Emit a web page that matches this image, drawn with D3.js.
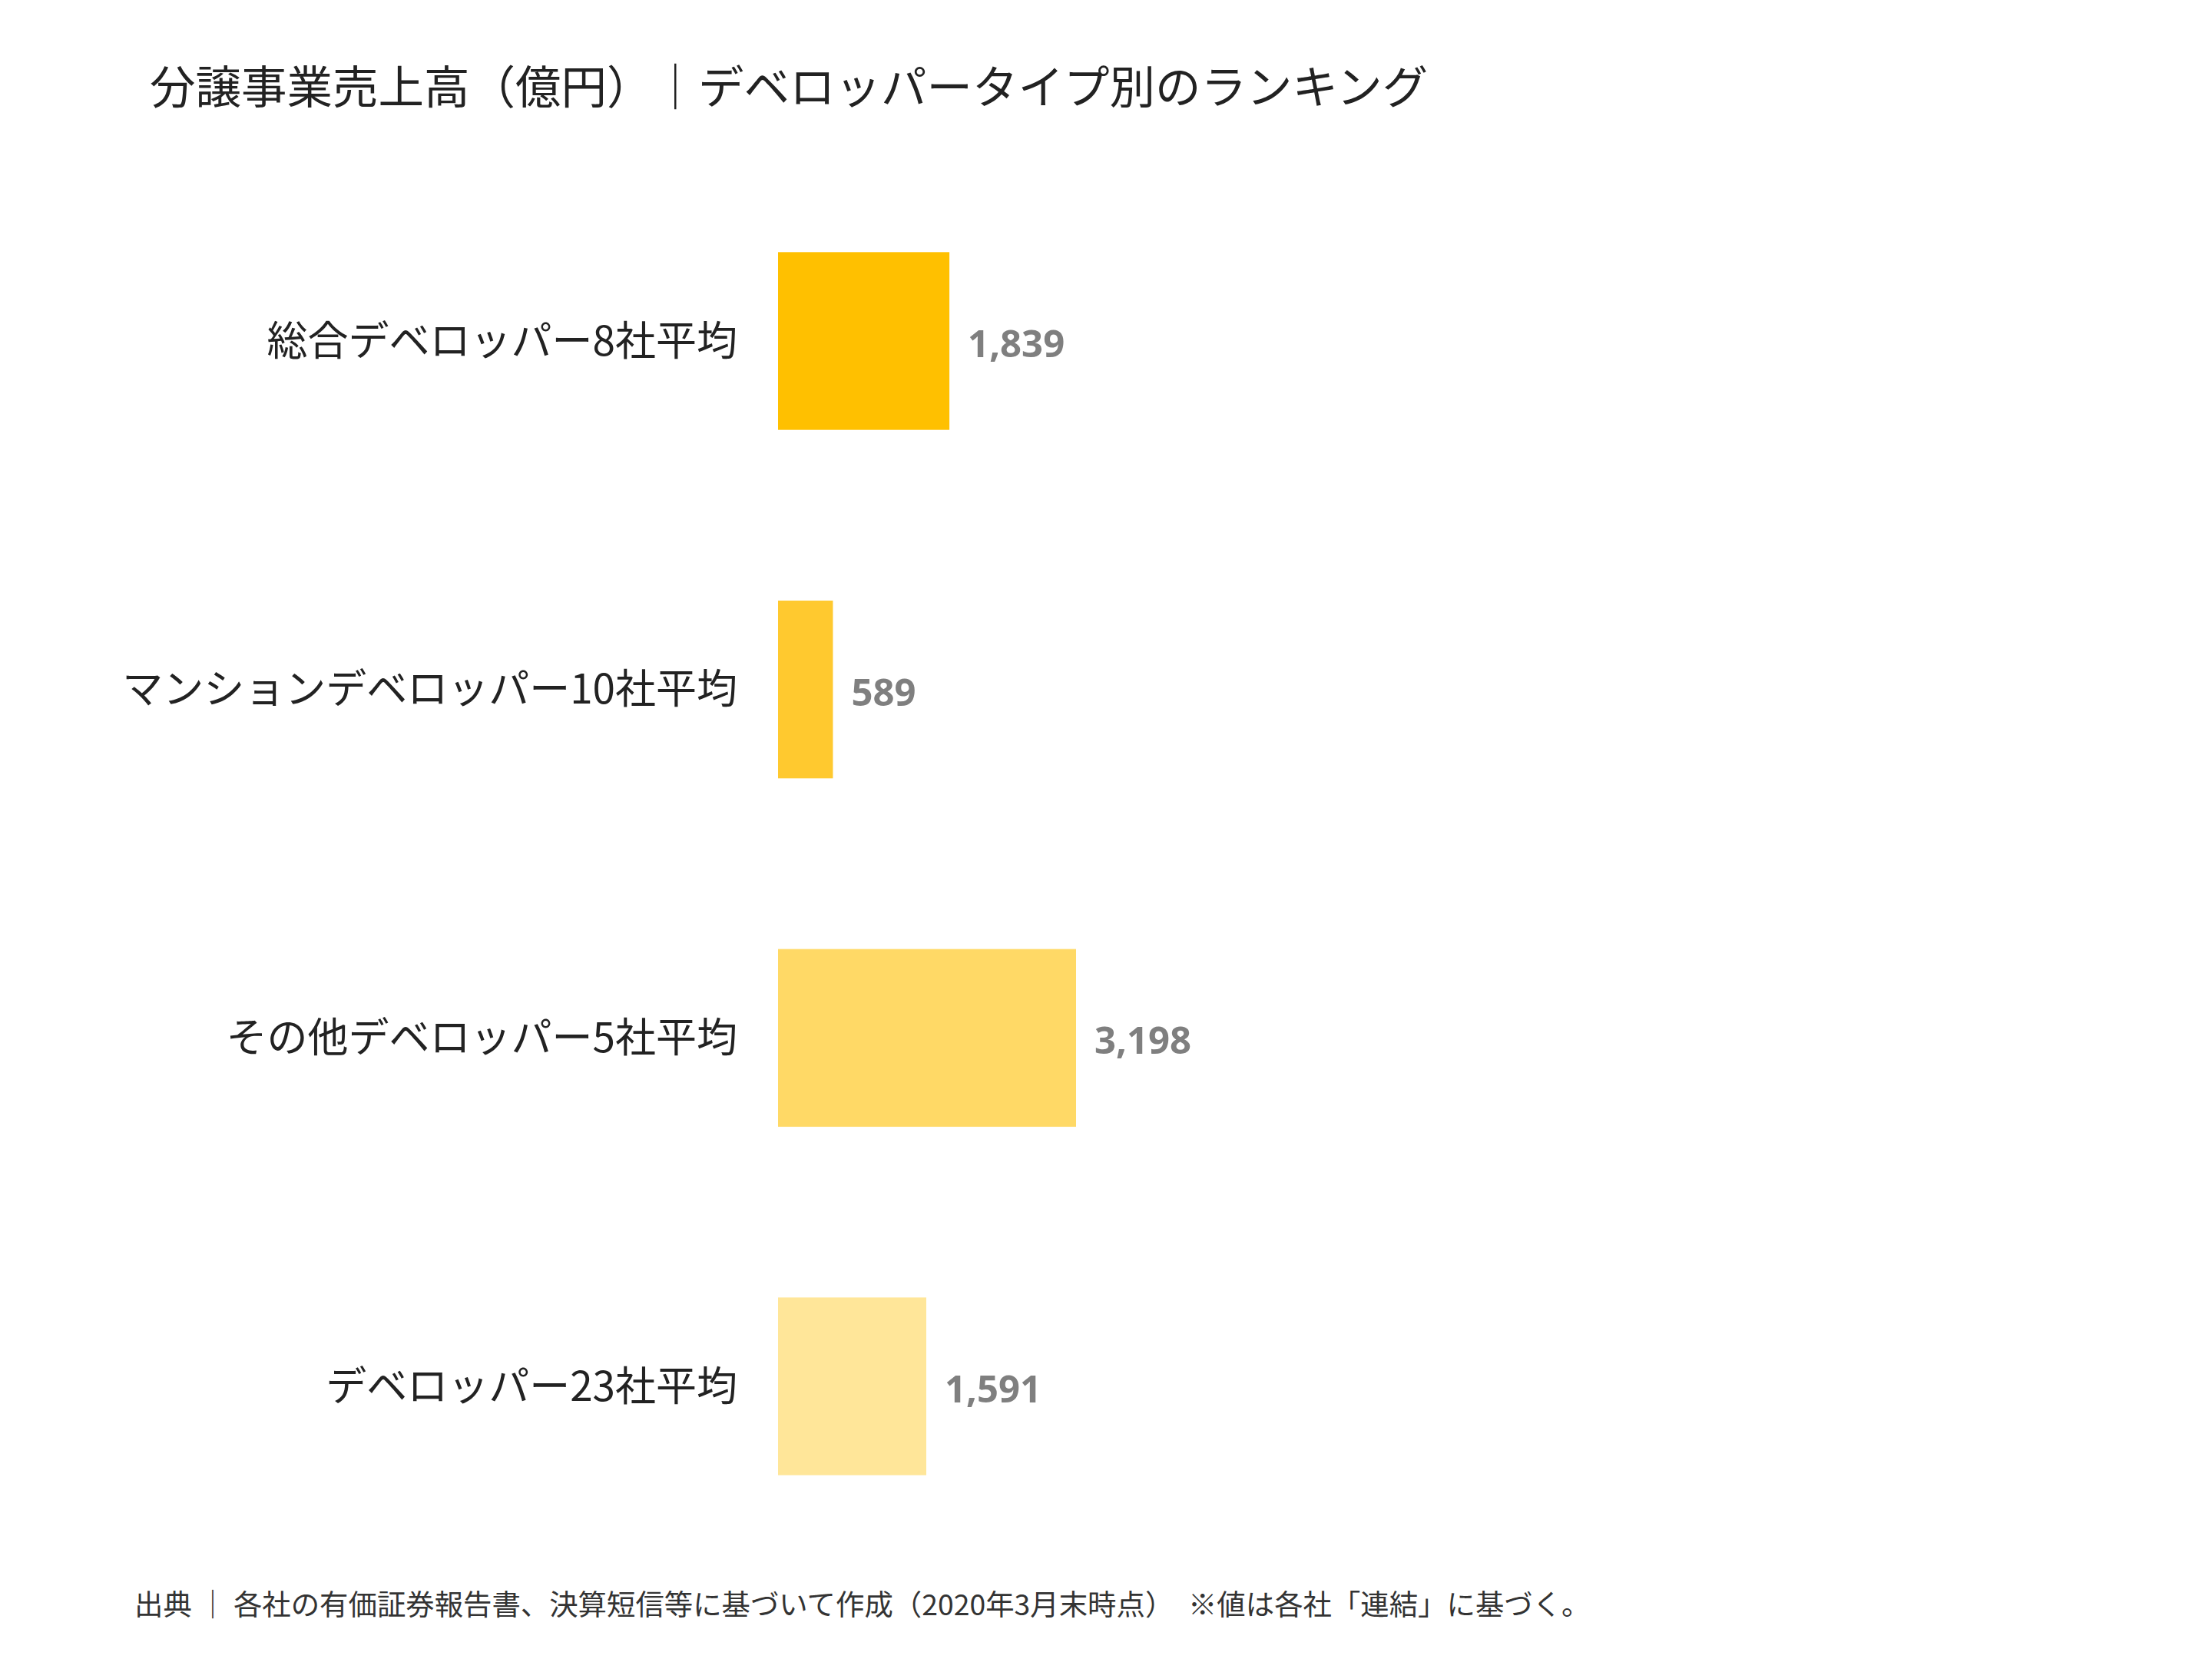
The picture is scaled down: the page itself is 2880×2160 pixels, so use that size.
<!DOCTYPE html>
<html><head><meta charset="utf-8">
<script src="https://cdn.jsdelivr.net/npm/d3@7"></script>
<style>body{margin:0;background:#fff}</style>
</head><body>
<script>
const categories = ["総合デベロッパー8社平均","マンションデベロッパー10社平均","その他デベロッパー5社平均","デベロッパー23社平均"];
const values = [1839, 589, 3198, 1591];
const colors = ["#FFC000","#FFC92F","#FFD966","#FFE699"];
const title = "分譲事業売上高（億円）｜デベロッパータイプ別のランキング";
const footer = "出典 ｜ 各社の有価証券報告書、決算短信等に基づいて作成（2020年3月末時点）　※値は各社「連結」に基づく。";

const W=2880,H=2160;
const svg=d3.select("body").append("svg").attr("width",W).attr("height",H);
const jp="'Noto Sans CJK JP','Noto Sans',sans-serif";
const x=d3.scaleLinear().domain([0,3198]).range([1013,1401]);
const y=d3.scaleBand().domain(categories).range([106,2143]).paddingInner(0.49).paddingOuter(0.49);

svg.append("text").attr("x",195).attr("y",135).attr("font-family",jp).attr("font-size",59.5).attr("fill","#222").text(title);

const g=svg.selectAll("g.bar").data(categories).enter().append("g");
g.append("rect").attr("x",x(0)).attr("y",d=>y(d)).attr("height",y.bandwidth())
 .attr("width",(d,i)=>x(values[i])-x(0)).attr("fill",(d,i)=>colors[i]);
g.append("text").attr("x",960).attr("y",d=>y(d)+y.bandwidth()/2).attr("dy","0.35em")
 .attr("text-anchor","end").attr("font-family",jp).attr("font-size",53).attr("fill","#222").text(d=>d);
g.append("text").attr("x",(d,i)=>x(values[i])+24).attr("y",d=>y(d)+y.bandwidth()/2+4).attr("dy","0.35em")
 .attr("font-family","'Open Sans',sans-serif").attr("font-weight","bold").attr("font-size",49).attr("fill","#7F7F7F")
 .text((d,i)=>d3.format(",")(values[i]));

svg.append("text").attr("x",175).attr("y",2103).attr("font-family",jp).attr("font-size",37.4).attr("fill","#333").text(footer);
</script>
</body></html>
